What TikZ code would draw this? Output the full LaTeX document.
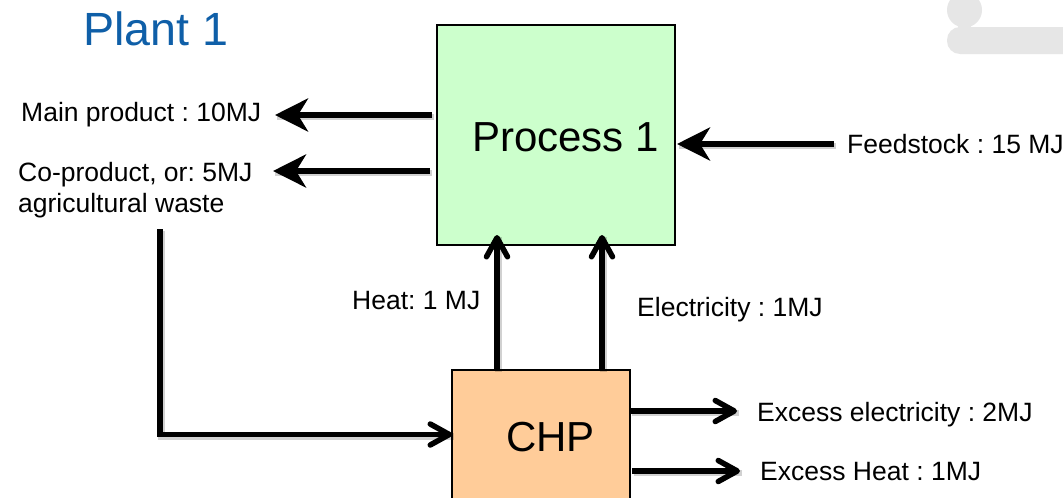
\documentclass[tikz,border=0pt]{standalone}
\usepackage{fontspec}
\setmainfont{Liberation Sans}
\usetikzlibrary{arrows.meta,shadows}
\definecolor{procfill}{HTML}{CCFFCC}
\definecolor{chpfill}{HTML}{FFCC99}
\definecolor{titleblue}{HTML}{0F5FA8}
\definecolor{logogrey}{HTML}{E6E6E6}
\tikzset{
  x=1pt,y=-1pt,
  lbl/.style={inner sep=0pt,anchor=base west,font=\fontsize{26.5}{31}\selectfont\frenchspacing,text=black},
  boxnode/.style={draw=black,line width=2pt,inner sep=0pt,anchor=north west},
  boxtext/.style={inner sep=0pt,anchor=base west,font=\fontsize{42}{48}\selectfont,text=black},
  softshadow/.style={preaction={draw=black,opacity=.18,line width=6.5pt,transform canvas={shift={(1.5pt,-2pt)}},-}},
  heavy/.style={draw=black,line width=5.5pt,softshadow,-{Stealth[length=33pt,width=33pt,inset=10pt]}},
  barb/.style={draw=black,line width=5.5pt,softshadow,line cap=butt,-{Straight Barb[length=19pt,width=21pt,round,line width=5.5pt]}}
}
\begin{document}
\begin{tikzpicture}
\clip (0,0) rectangle (1063,498);
\fill[white] (0,0) rectangle (1063,498);
% grey logo fragment
\fill[logogrey] (964.5,10) circle (17.5);
\fill[logogrey] (958,24) rectangle (971,30);
\fill[logogrey,rounded corners=13pt] (947,27) rectangle (1090,54);
\node[text=titleblue,inner sep=0pt,anchor=base west,font=\fontsize{46.6}{52}\selectfont] (title) at (83,45) {Plant 1};
% boxes
\node[boxnode,fill=procfill,minimum width=238pt,minimum height=220pt] (proc) at (435.5,23.5) {};
\node[boxnode,fill=chpfill,minimum width=178pt,minimum height=180pt] (chp) at (450.5,368.5) {};
\node[boxtext] (proctext) at (472,151) {Process 1};
\node[boxtext] (chptext) at (506,451) {CHP};
% labels
\node[lbl] (main) at (21,121) {Main product : 10MJ};
\node[lbl] (coprod) at (18,181) {Co-product, or: 5MJ};
\node[lbl] (agri) at (18,212) {agricultural waste};
\node[lbl] (feed) at (847,153) {Feedstock : 15 MJ};
\node[lbl] (heat) at (352,309) {Heat: 1 MJ};
\node[lbl] (elec) at (637,316) {Electricity : 1MJ};
\node[lbl] (exel) at (757,421) {Excess electricity : 2MJ};
\node[lbl] (exheat) at (760,480) {Excess Heat : 1MJ};
% free ends
\coordinate (a1s) at (432,115);
\coordinate (a1e) at (275,115);
\coordinate (a2s) at (430,171);
\coordinate (a2e) at (273,171);
\coordinate (a3s) at (834,144);
\coordinate (a3e) at (677,144);
\coordinate (a4s) at (497,370);
\coordinate (a4e) at (497,235);
\coordinate (a5s) at (602,370);
\coordinate (a5e) at (602,235);
\coordinate (a6s) at (160,229);
\coordinate (a6e) at (452,434.5);
\coordinate (a7s) at (630,411);
\coordinate (a7e) at (737,411);
\coordinate (a8s) at (632,471);
\coordinate (a8e) at (740,471);
% connectors
\draw[heavy] (a1s) -- (a1e);
\draw[heavy] (a2s) -- (a2e);
\draw[heavy] (a3s) -- (a3e);
\draw[barb] (a4s) -- (a4e);
\draw[barb] (a5s) -- (a5e);
\draw[barb] (a6s) |- (a6e);
\draw[barb] (a7s) -- (a7e);
\draw[barb] (a8s) -- (a8e);
\end{tikzpicture}
\end{document}
